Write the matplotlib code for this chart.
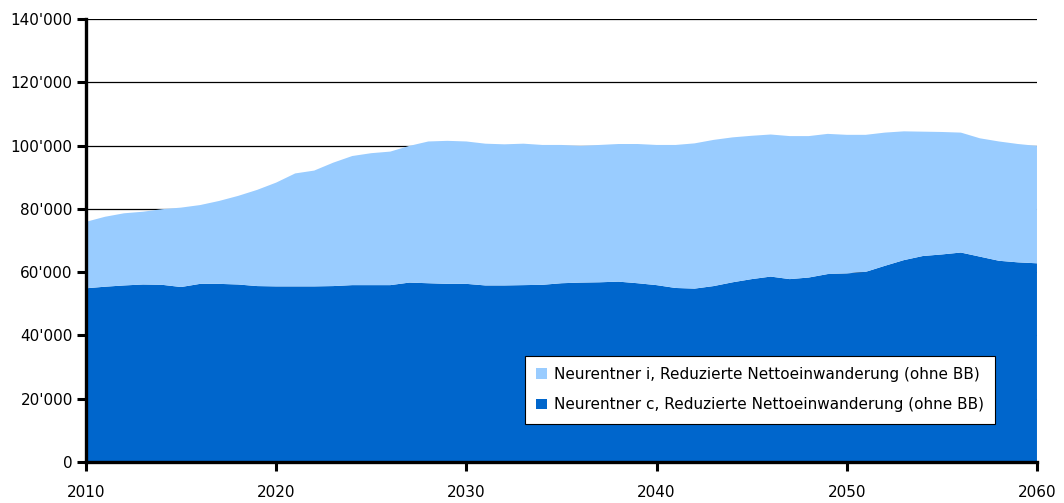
import matplotlib.pyplot as plt
from matplotlib.ticker import FuncFormatter, MultipleLocator

years = list(range(2010, 2061))

# Neurentner c (dark, bottom layer)
neurentner_c = [
    54900, 55400, 55800, 56100, 56000, 55300, 56300, 56300, 56100, 55600,
    55500, 55500, 55500, 55600, 55900, 55900, 55900, 56700, 56500, 56300,
    56300, 55800, 55800, 55900, 56000, 56500, 56700, 56800, 57000, 56500,
    55900, 55000, 54800, 55600, 56800, 57800, 58600, 57800, 58300, 59400,
    59600, 60100, 62000, 63800, 65100, 65600, 66200, 64900, 63600, 63100,
    62800,
]

# Neurentner i (light, stacked on top)
neurentner_i = [
    21000, 22100, 22800, 23000, 23900, 25100, 24900, 26200, 28000, 30400,
    32800, 35700, 36600, 39000, 40800, 41700, 42200, 43200, 44800, 45200,
    45000, 44800, 44600, 44700, 44200, 43700, 43200, 43400, 43500, 44000,
    44300, 45200, 45900, 46200, 45800, 45300, 44900, 45200, 44700, 44300,
    43800, 43300, 42100, 40700, 39300, 38700, 37900, 37400, 37700, 37400,
    37100,
]

labels = [
    "Neurentner i, Reduzierte Nettoeinwanderung (ohne BB)",
    "Neurentner c, Reduzierte Nettoeinwanderung (ohne BB)",
]

dark = "#0066cc"
light = "#99ccff"

plt.rcParams.update({
    "font.family": "DejaVu Sans",
    "font.size": 11,
})

fig = plt.figure(figsize=(10.64, 5.03), dpi=100)
ax = fig.add_axes([0.0808, 0.0815, 0.8938, 0.8807])

polys = ax.stackplot(years, neurentner_c, neurentner_i,
                     colors=[dark, light], linewidth=0)

ax.set_xlim(2010, 2060)
ax.set_ylim(0, 140000)
ax.xaxis.set_major_locator(MultipleLocator(10))
ax.yaxis.set_major_locator(MultipleLocator(20000))
ax.yaxis.set_major_formatter(
    FuncFormatter(lambda v, p: f"{int(v):,}".replace(",", "'"))
)

# black gridlines sit behind the areas
ax.set_axisbelow(True)
ax.grid(True, axis="y", color="black", linewidth=0.9)
ax.grid(False, axis="x")

for side in ["top", "right"]:
    ax.spines[side].set_visible(False)
for side in ["left", "bottom"]:
    ax.spines[side].set_linewidth(2.4)
    ax.spines[side].set_color("black")

ax.tick_params(axis="both", direction="out", length=6.5, width=2.2,
               color="black", labelcolor="black", labelsize=11)
ax.tick_params(axis="x", pad=10)
ax.tick_params(axis="y", pad=3)

# legend lists the top layer first
leg = ax.legend(
    [polys[1], polys[0]], labels,
    loc="lower right",
    bbox_to_anchor=(0.956, 0.086),
    borderaxespad=0,
    fancybox=False,
    framealpha=1,
    edgecolor="black",
    fontsize=11,
    handlelength=0.7,
    handleheight=0.7,
    handletextpad=0.45,
    labelspacing=1.0,
    borderpad=0.75,
)
leg.get_frame().set_linewidth(0.8)

plt.savefig("out.png", dpi=100)
plt.close()
